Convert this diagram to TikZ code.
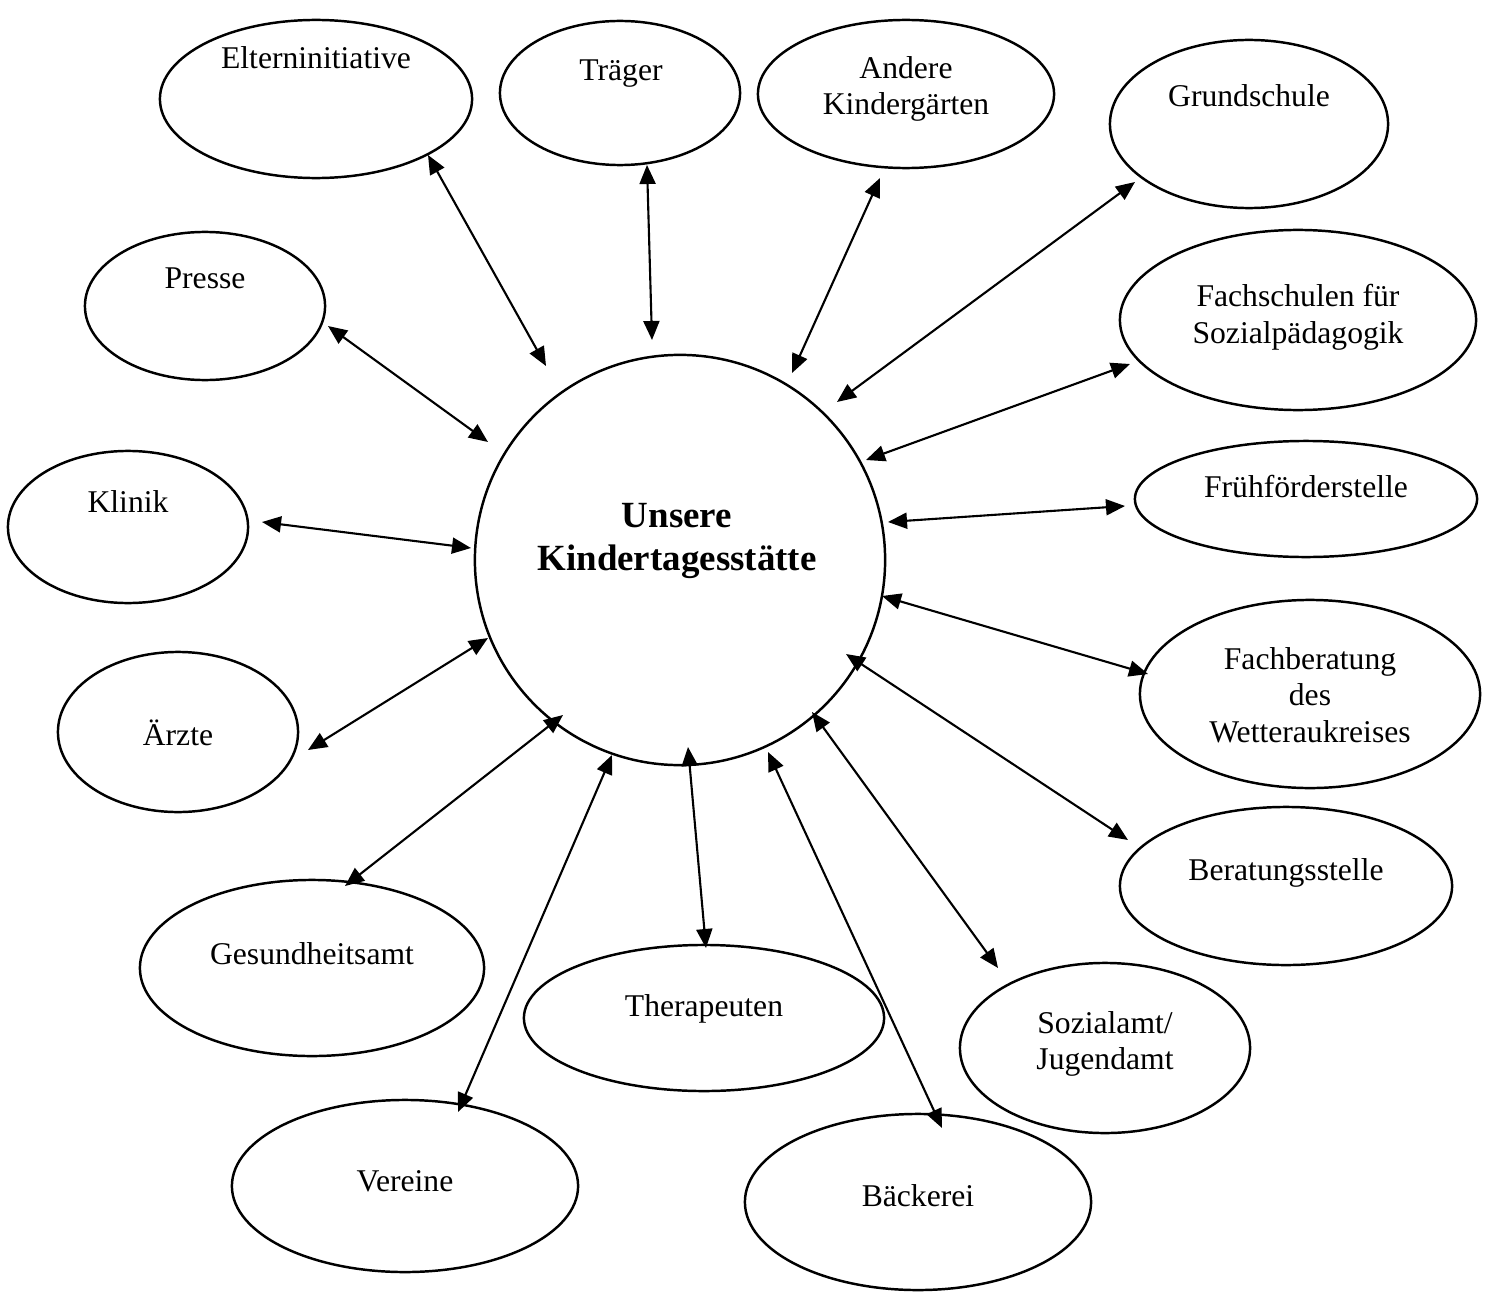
\documentclass[tikz,border=0pt]{standalone}
\usepackage{fontspec}
\setmainfont{Liberation Serif}
\usetikzlibrary{arrows.meta, shapes.geometric}

\begin{document}
\begin{tikzpicture} [x=0.01cm, y=-0.01cm,
	bubble/.style={draw, ellipse, line width=0.7pt, inner sep=0pt},
	txt/.style={align=center, font=\fontsize{9}{10.4}\selectfont},
	link/.style={line width=0.6pt, {Triangle[length=0.19cm, width=0.16cm]}-{Triangle[length=0.19cm, width=0.16cm]}}]
	\useasboundingbox (0,0) rectangle (1491,1294);
	
	% centre
	\node[bubble, circle, minimum size=4.1cm] (kita) at (680,560) {};
	\node[txt, font=\fontsize{10.5}{12}\selectfont\bfseries] (kita-t) at (677,541) {Unsere\\Kindertagesst\"atte};
	
	% partners, clockwise from top left
	\node[bubble, minimum width=3.12cm, minimum height=1.58cm] (eltern) at (316,99) {};
	\node[txt] (eltern-t) at (316,58) {Elterninitiative};
	\node[bubble, minimum width=2.40cm, minimum height=1.44cm] (traeger) at (620,93) {};
	\node[txt] (traeger-t) at (621,74) {Tr\"ager};
	\node[bubble, minimum width=2.96cm, minimum height=1.48cm] (andere) at (906,94) {};
	\node[txt] (andere-t) at (906,89) {Andere\\Kinderg\"arten};
	\node[bubble, minimum width=2.78cm, minimum height=1.68cm] (grund) at (1249,124) {};
	\node[txt] (grund-t) at (1249,96) {Grundschule};
	\node[bubble, minimum width=3.56cm, minimum height=1.80cm] (fachsch) at (1298,320) {};
	\node[txt] (fachsch-t) at (1298,317) {Fachschulen f\"ur\\Sozialp\"adagogik};
	\node[bubble, minimum width=3.42cm, minimum height=1.16cm] (frueh) at (1306,499) {};
	\node[txt] (frueh-t) at (1306,487) {Fr\"uhf\"orderstelle};
	\node[bubble, minimum width=3.40cm, minimum height=1.88cm] (fachber) at (1310,694) {};
	\node[txt] (fachber-t) at (1310,695) {Fachberatung\\des\\Wetteraukreises};
	\node[bubble, minimum width=3.32cm, minimum height=1.58cm] (berat) at (1286,886) {};
	\node[txt] (berat-t) at (1286,873) {Beratungsstelle};
	\node[bubble, minimum width=2.90cm, minimum height=1.70cm] (sozial) at (1105,1048) {};
	\node[txt] (sozial-t) at (1105,1044) {Sozialamt/\\Jugendamt};
	\node[bubble, minimum width=3.46cm, minimum height=1.76cm] (baecker) at (918,1202) {};
	\node[txt] (baecker-t) at (918,1196) {B\"ackerei};
	\node[bubble, minimum width=3.60cm, minimum height=1.46cm] (thera) at (704,1018) {};
	\node[txt] (thera-t) at (704,1009) {Therapeuten};
	\node[bubble, minimum width=3.46cm, minimum height=1.72cm] (vereine) at (405,1186) {};
	\node[txt] (vereine-t) at (405,1181) {Vereine};
	\node[bubble, minimum width=3.44cm, minimum height=1.76cm] (gesund) at (312,968) {};
	\node[txt] (gesund-t) at (312,954) {Gesundheitsamt};
	\node[bubble, minimum width=2.40cm, minimum height=1.60cm] (aerzte) at (178,732) {};
	\node[txt] (aerzte-t) at (178,733) {\"Arzte};
	\node[bubble, minimum width=2.40cm, minimum height=1.52cm] (klinik) at (128,527) {};
	\node[txt] (klinik-t) at (128,502) {Klinik};
	\node[bubble, minimum width=2.40cm, minimum height=1.48cm] (presse) at (205,306) {};
	\node[txt] (presse-t) at (205,278) {Presse};
	
	% arrow ends (free, they stop short of the shapes)
	\coordinate (eltern-a) at (546,366);  \coordinate (eltern-b) at (428,155);
	\coordinate (traeger-a) at (652,340); \coordinate (traeger-b) at (647,165);
	\coordinate (andere-a) at (792,373);  \coordinate (andere-b) at (880,178);
	\coordinate (grund-a) at (837,402);   \coordinate (grund-b) at (1135,182);
	\coordinate (fachsch-a) at (866,460); \coordinate (fachsch-b) at (1130,364);
	\coordinate (frueh-a) at (888,522);   \coordinate (frueh-b) at (1125,506);
	\coordinate (fachber-a) at (882,596); \coordinate (fachber-b) at (1148,674);
	\coordinate (berat-a) at (846,654);   \coordinate (berat-b) at (1128,840);
	\coordinate (sozial-a) at (812,712);  \coordinate (sozial-b) at (998,968);
	\coordinate (baecker-a) at (768,752); \coordinate (baecker-b) at (942,1128);
	\coordinate (thera-a) at (688,747);   \coordinate (thera-b) at (706,948);
	\coordinate (vereine-a) at (612,755); \coordinate (vereine-b) at (458,1112);
	\coordinate (gesund-a) at (563,715);  \coordinate (gesund-b) at (345,886);
	\coordinate (aerzte-a) at (488,638);  \coordinate (aerzte-b) at (308,750);
	\coordinate (klinik-a) at (471,548);  \coordinate (klinik-b) at (262,522);
	\coordinate (presse-a) at (488,442);  \coordinate (presse-b) at (328,326);
	
	\foreach \n in {eltern, traeger, andere, grund, fachsch, frueh, fachber, berat,
		sozial, baecker, thera, vereine, gesund, aerzte, klinik, presse}
	\draw[link] (\n-a) -- (\n-b);
	
\end{tikzpicture}
\end{document}
